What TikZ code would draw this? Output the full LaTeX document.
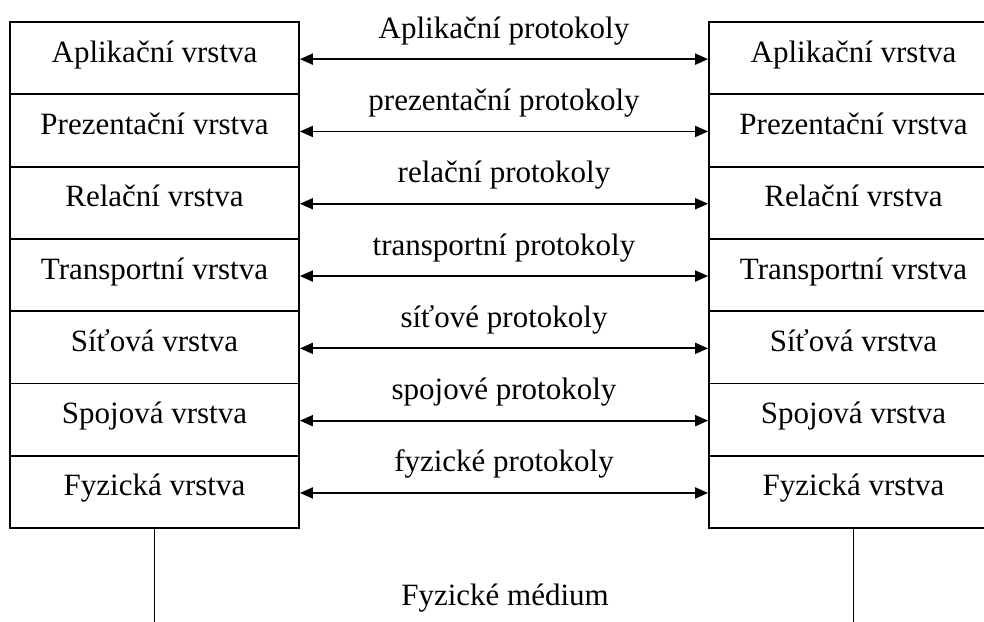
\documentclass[tikz,border=0pt]{standalone}
\usepackage{fontspec}
\setmainfont{Liberation Serif}
\usetikzlibrary{arrows.meta}

\tikzset{
  layer/.style={draw, line width=1.8pt, minimum width=289pt, minimum height=72.3pt,
    inner sep=0pt, text height=20pt, text depth=12pt, anchor=center},
  proto/.style={line width=1.8pt, {Triangle[length=13pt,width=11pt]}-{Triangle[length=13pt,width=11pt]}},
  protolabel/.style={anchor=base, yshift=21pt, inner sep=0pt},
  medium/.style={line width=1.4pt}
}

\begin{document}
\begin{tikzpicture}[x=1pt, y=-1pt, font=\fontsize{31}{37}\selectfont]
  \begin{scope}
  \clip (0,0) rectangle (984,621);

  % left and right stacks of OSI layers
  \foreach \i/\t in {1/Aplikační vrstva, 2/Prezentační vrstva, 3/Relační vrstva,
                     4/Transportní vrstva, 5/Síťová vrstva, 6/Spojová vrstva,
                     7/Fyzická vrstva} {
    \node[layer] (L\i) at (154.5, {22 + 36.15 + 72.3*(\i-1)}) {\t};
    \node[layer] (R\i) at (853.5, {22 + 36.15 + 72.3*(\i-1)}) {\t};
  }

  % peer-to-peer protocols between matching layers
  \foreach \i/\t in {1/Aplikační protokoly, 2/prezentační protokoly, 3/relační protokoly,
                     4/transportní protokoly, 5/síťové protokoly, 6/spojové protokoly,
                     7/fyzické protokoly} {
    \draw[proto] ([yshift=-1pt]L\i.east) -- ([yshift=-1pt]R\i.west)
      node[midway, protolabel] {\t};
  }

  % physical medium
  \coordinate (ML) at (154.5, 625);
  \coordinate (MR) at (853.5, 625);
  \draw[medium] (L7.south) -- (ML);
  \draw[medium] (R7.south) -- (MR);
  \node[anchor=base, inner sep=0pt] (med) at (505, 605) {Fyzické médium};
  \end{scope}

  % the page covers the visible area only
  \pgfresetboundingbox
  \useasboundingbox (0,0) rectangle (984,621);
\end{tikzpicture}
\end{document}
